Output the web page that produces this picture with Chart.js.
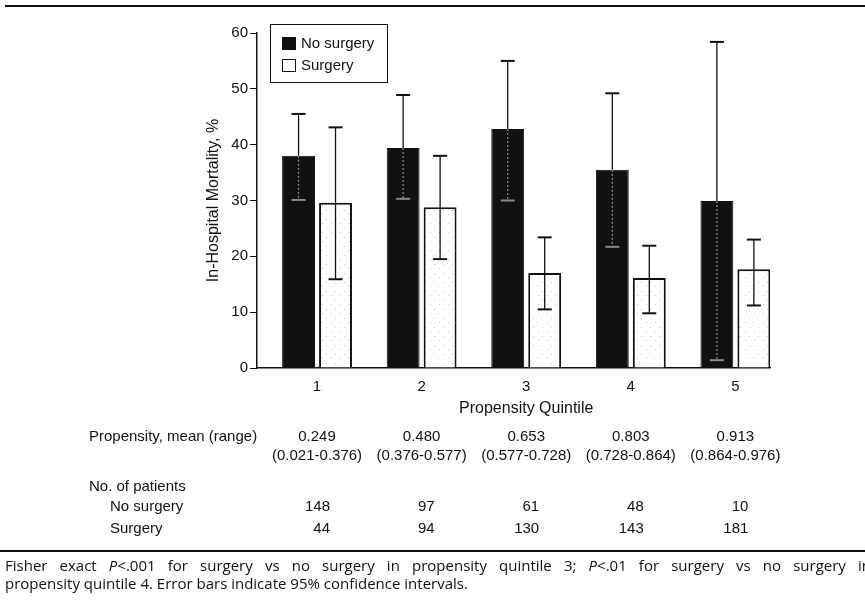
<!DOCTYPE html>
<html>
<head>
<meta charset="utf-8">
<script src="https://cdn.jsdelivr.net/npm/chart.js@4.4.0/dist/chart.umd.min.js"></script>
<style>
  html, body { margin: 0; padding: 0; background: #fff; }
  #wrap { width: 865px; height: 609px; }
</style>
</head>
<body>
<div id="wrap"><canvas id="chart" width="865" height="609"></canvas></div>
<script>
// ===============================
// Data
// ===============================
const quintiles = ["1", "2", "3", "4", "5"];
const yTicks = [0, 10, 20, 30, 40, 50, 60];

const noSurgery = [38.0, 39.4, 42.8, 35.5, 29.9];
const noSurgeryLow = [30.1, 30.3, 30.0, 21.7, 1.4];
const noSurgeryHigh = [45.5, 48.9, 55.0, 49.2, 58.4];

const surgery = [29.6, 28.8, 17.0, 16.1, 17.7];
const surgeryLow = [15.9, 19.5, 10.5, 9.8, 11.2];
const surgeryHigh = [43.1, 38.0, 23.4, 21.9, 23.0];

const propMean = ["0.249", "0.480", "0.653", "0.803", "0.913"];
const propRange = ["(0.021-0.376)", "(0.376-0.577)", "(0.577-0.728)", "(0.728-0.864)", "(0.864-0.976)"];
const nNoSurgery = ["148", "97", "61", "48", "10"];
const nSurgery = ["44", "94", "130", "143", "181"];

const footLine1 = [["Fisher exact "], ["P", true], ["<.001 for surgery vs no surgery in propensity quintile 3; "], ["P", true], ["<.01 for surgery vs no surgery in"]];
const footLine2 = "propensity quintile 4. Error bars indicate 95% confidence intervals.";

const FONT = "'Liberation Sans', Arial, sans-serif";
const FOOT_FONT = "'Open Sans', 'Noto Sans', sans-serif";
const INK = "#111";

// light stipple for the surgery bars
const makeStipple = () => {
  const c = document.createElement("canvas");
  c.width = 9; c.height = 9;
  const g = c.getContext("2d");
  g.fillStyle = "#fff";
  g.fillRect(0, 0, 9, 9);
  g.fillStyle = "#c8c8c8";
  g.fillRect(2, 3, 1, 1);
  g.fillRect(7, 7, 1, 1);
  return g.createPattern(c, "repeat");
};

const toPoints = arr => arr.map((v, i) => ({ x: i + 1, y: v }));

// ===============================
// Plugins
// ===============================
const errorBars = {
  id: "errorBars",
  afterDatasetsDraw(chart) {
    const ctx = chart.ctx;
    const y = chart.scales.y;
    chart.data.datasets.forEach((ds, di) => {
      const meta = chart.getDatasetMeta(di);
      meta.data.forEach((bar, i) => {
        const x = bar.x;
        const hi = y.getPixelForValue(ds.errHigh[i]);
        const lo = y.getPixelForValue(ds.errLow[i]);
        const inner = ds.darkBar ? "#8a8a8a" : INK;
        ctx.save();
        // above bar top
        ctx.strokeStyle = INK;
        ctx.lineWidth = 1.3;
        ctx.beginPath();
        ctx.moveTo(x, hi);
        ctx.lineTo(x, bar.y);
        ctx.stroke();
        // inside bar
        ctx.strokeStyle = inner;
        if (ds.darkBar) ctx.setLineDash([2, 2]);
        ctx.beginPath();
        ctx.moveTo(x, bar.y);
        ctx.lineTo(x, lo);
        ctx.stroke();
        ctx.setLineDash([]);
        // caps
        ctx.lineWidth = 2;
        ctx.strokeStyle = INK;
        ctx.beginPath();
        ctx.moveTo(x - 7, hi);
        ctx.lineTo(x + 7, hi);
        ctx.stroke();
        ctx.strokeStyle = inner;
        ctx.beginPath();
        ctx.moveTo(x - 7, lo);
        ctx.lineTo(x + 7, lo);
        ctx.stroke();
        ctx.restore();
      });
    });
  }
};

const extras = {
  id: "extras",
  afterDraw(chart) {
    const ctx = chart.ctx;
    const xs = chart.scales.x;
    const area = chart.chartArea;
    ctx.save();
    ctx.fillStyle = INK;
    ctx.strokeStyle = INK;

    // rules
    ctx.lineWidth = 2;
    ctx.beginPath();
    ctx.moveTo(5, 6); ctx.lineTo(865, 6);
    ctx.moveTo(0, 551); ctx.lineTo(865, 551);
    ctx.stroke();

    // legend box
    const lx = area.left + 13, ly = area.top - 9;
    ctx.lineWidth = 1;
    ctx.strokeRect(lx + 0.5, ly + 0.5, 117, 58);
    ctx.font = "15px " + FONT;
    ctx.textBaseline = "middle";
    ctx.textAlign = "left";
    chart.data.datasets.forEach((ds, i) => {
      const sy = ly + 13 + i * 22;
      ctx.fillStyle = ds.darkBar ? INK : "#fff";
      ctx.fillRect(lx + 12, sy, 14, 13);
      ctx.strokeStyle = INK;
      ctx.lineWidth = 1;
      ctx.strokeRect(lx + 12.5, sy + 0.5, 13, 12);
      ctx.fillStyle = INK;
      ctx.fillText(ds.label, lx + 31, sy + 7);
    });

    // x axis title centred on the quintiles
    const mid = (xs.getPixelForValue(1) + xs.getPixelForValue(quintiles.length)) / 2;
    ctx.font = "16px " + FONT;
    ctx.textAlign = "center";
    ctx.fillText("Propensity Quintile", mid, 409);

    // table under the axis
    ctx.font = "15px " + FONT;
    ctx.textAlign = "left";
    ctx.fillText("Propensity, mean (range)", 89, 437);
    ctx.fillText("No. of patients", 89, 487);
    ctx.fillText("No surgery", 110, 507);
    ctx.fillText("Surgery", 110, 529);
    quintiles.forEach((q, i) => {
      const px = xs.getPixelForValue(i + 1);
      ctx.textAlign = "center";
      ctx.fillText(propMean[i], px, 437);
      ctx.fillText(propRange[i], px, 456);
      ctx.textAlign = "right";
      ctx.fillText(nNoSurgery[i], px + 13, 507);
      ctx.fillText(nSurgery[i], px + 13, 529);
    });

    // footnote
    ctx.textAlign = "left";
    const fsize = 15;
    const setFont = it => { ctx.font = (it ? "italic " : "") + fsize + "px " + FOOT_FONT; };
    // line 1 justified to the full width
    const words = [];
    footLine1.forEach(([t, it]) => {
      t.split(/(\s+)/).forEach(w => { if (w.length) words.push([w, !!it]); });
    });
    let natural = 0, spaces = 0;
    words.forEach(([w, it]) => {
      setFont(it);
      if (/^\s+$/.test(w)) spaces++;
      natural += ctx.measureText(w).width;
    });
    const extra = spaces ? (871 - 5 - natural) / spaces : 0;
    let cx = 5;
    words.forEach(([w, it]) => {
      setFont(it);
      if (!/^\s+$/.test(w)) ctx.fillText(w, cx, 567);
      cx += ctx.measureText(w).width + (/^\s+$/.test(w) ? extra : 0);
    });
    setFont(false);
    ctx.fillText(footLine2, 5, 585);
    ctx.restore();
  }
};

// ===============================
// Chart
// ===============================
const ctx = document.getElementById("chart").getContext("2d");

new Chart(ctx, {
  type: "bar",
  data: {
    datasets: [
      {
        label: "No surgery",
        data: toPoints(noSurgery),
        errLow: noSurgeryLow,
        errHigh: noSurgeryHigh,
        darkBar: true,
        backgroundColor: INK,
        borderColor: INK,
        borderWidth: 1
      },
      {
        label: "Surgery",
        data: toPoints(surgery),
        errLow: surgeryLow,
        errHigh: surgeryHigh,
        darkBar: false,
        backgroundColor: makeStipple(),
        borderColor: INK,
        borderWidth: 2
      }
    ]
  },
  options: {
    responsive: false,
    animation: false,
    categoryPercentage: 0.707,
    barPercentage: 0.89,
    layout: { padding: { left: 200, right: 95, top: 33, bottom: 211 } },
    plugins: {
      legend: { display: false },
      tooltip: { enabled: false }
    },
    scales: {
      x: {
        type: "linear",
        offset: false,
        min: 0.426,
        max: 5.331,
        afterBuildTicks: s => { s.ticks = quintiles.map((q, i) => ({ value: i + 1 })); },
        ticks: {
          callback: v => quintiles[v - 1],
          font: { size: 15, family: FONT },
          color: INK,
          padding: 2,
          maxRotation: 0
        },
        grid: { display: false, offset: false },
        border: { display: true, color: INK, width: 1.5 },
        afterFit: s => { s.height = 30; }
      },
      y: {
        min: 0,
        max: 60,
        afterBuildTicks: s => { s.ticks = yTicks.map(v => ({ value: v })); },
        ticks: { font: { size: 15, family: FONT }, color: INK, padding: 2 },
        grid: { drawOnChartArea: false, drawTicks: true, tickLength: 7, color: INK, lineWidth: 1 },
        border: { color: INK, width: 1.5 },
        title: {
          display: true,
          text: "In-Hospital Mortality, %",
          font: { size: 16, family: FONT },
          color: INK,
          padding: { top: 4, bottom: 0 }
        },
        afterFit: s => { s.width = 57; }
      }
    }
  },
  plugins: [errorBars, extras]
});
</script>
</body>
</html>
